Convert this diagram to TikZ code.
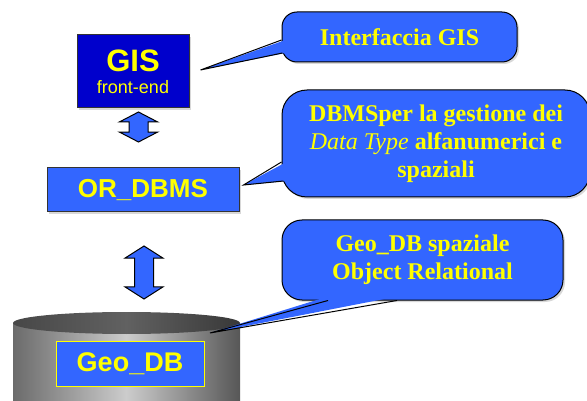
\documentclass[tikz,border=0pt]{standalone}
\usepackage{fontspec}
\setmainfont{Liberation Serif}
\newfontfamily\arialfont{Liberation Sans}
\usepackage{tikz}
\usetikzlibrary{shapes.arrows,shadows,calc}

\definecolor{gisblue}{RGB}{0,0,204}
\definecolor{boxblue}{RGB}{51,102,255}
\definecolor{txtyellow}{RGB}{255,255,0}

\begin{document}
\begin{tikzpicture}[x=1pt,y=-1pt,
        box/.style={rectangle, draw=black!80, line width=1pt, fill=boxblue, text=txtyellow, font=\arialfont\bfseries, inner sep=0pt, drop shadow={shadow xshift=2pt, shadow yshift=-2pt, fill=black!30}},
        dblabel/.style={rectangle, draw=txtyellow, line width=1pt, fill=boxblue, text=txtyellow, font=\arialfont\bfseries\fontsize{27}{27}\selectfont, inner sep=0pt},
        balloon/.style={rectangle, draw=black, line width=1pt, fill=boxblue, text=txtyellow, font=\bfseries\fontsize{24}{28}\selectfont, align=center, inner sep=0pt, drop shadow={shadow xshift=2pt, shadow yshift=-2pt, fill=black!30}},
        bigarrow/.style={double arrow, draw=black, line width=1pt, fill=boxblue, rotate=90, inner xsep=0pt, inner ysep=9pt, minimum width=37pt, double arrow head extend=9.5pt, double arrow head indent=0pt},
        pointer/.style={fill=boxblue},
        pointerline/.style={draw=black, line width=1pt, line join=miter}
    ]
        \useasboundingbox (0,0) rectangle (587,401);

        % database cylinder
        \shade[left color=black!58, right color=black!66, middle color=black!20] (13,323) -- (13,412) -- (240,412) -- (240,323) -- cycle;
        \shade[left color=black!72, right color=black!78, middle color=black!62] (126.5,323) ellipse [x radius=113.5, y radius=11];
        \coordinate (dbtop) at (210,333);

        \node[box, fill=gisblue, minimum width=112, minimum height=73, align=center] (gis) at (133,71.5) {{\fontsize{31}{31}\selectfont GIS}\\[8pt]{\fontsize{18}{18}\selectfont\mdseries front-end}};
        \node[box, minimum width=192, minimum height=44, font=\arialfont\bfseries\fontsize{26}{26}\selectfont] (ordbms) at (143,190) {OR\_DBMS};
        \node[dblabel, minimum width=148, minimum height=45] (geodb) at (130,363.5) {Geo\_DB};

        \node[bigarrow, minimum height=30, double arrow tip angle=125] (arr1) at (138.5,127) {};
        \node[bigarrow, minimum height=53, double arrow tip angle=115] (arr2) at (144,272.5) {};

        \node[balloon, rounded corners=15, minimum width=235, minimum height=50] (c1) at (399.5,37) {Interfaccia GIS};
        \node[balloon, rounded corners=25, minimum width=308, minimum height=107] (c2) at (436,143.5) {DBMSper la gestione dei\\{\mdseries\itshape Data Type} alfanumerici e\\spaziali};
        \node[balloon, rounded corners=20, minimum width=281, minimum height=80] (c3) at (422.5,260) {Geo\_DB spaziale\\Object Relational};

        \coordinate (tip1) at ($(gis.east)+(11,-1.5)$);
        \coordinate (tip2) at ($(ordbms.east)+(4,-5)$);

        % callout pointers
        \fill[pointer] (tip1) -- ($(c1.west)+(4,3)$) -- ($(c1.west)+(4,16)$) -- cycle;
        \draw[pointerline] ($(c1.west)+(0,3)$) -- (tip1) -- ($(c1.west)+(1,16)$);
        \fill[pointer] (tip2) -- ($(c2.west)+(5,18.5)$) -- ($(c2.west)+(6,37.5)$) -- cycle;
        \draw[pointerline] ($(c2.west)+(0,18.5)$) -- (tip2) -- ($(c2.west)+(2,37.5)$);
        \fill[pointer] (dbtop) -- ($(c3.south)+(-94.5,-4)$) -- ($(c3.south)+(-25.5,-4)$) -- cycle;
        \draw[pointerline] ($(c3.south)+(-94.5,0)$) -- (dbtop) -- ($(c3.south)+(-25.5,0)$);
    \end{tikzpicture}
\end{document}
